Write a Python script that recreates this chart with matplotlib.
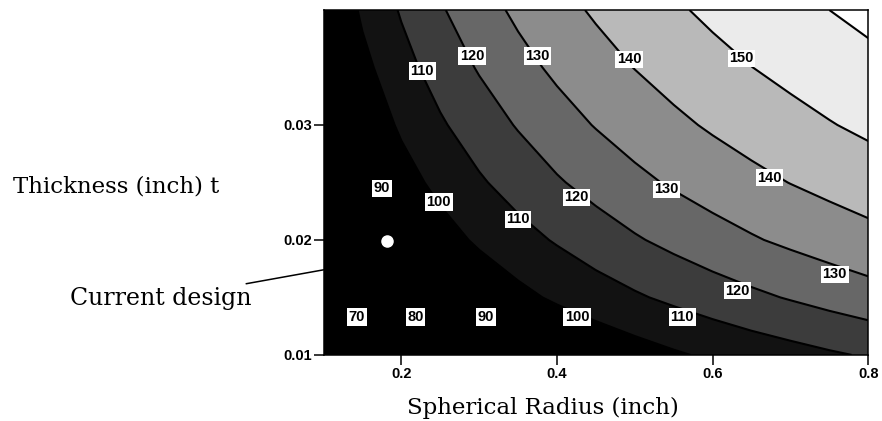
import numpy as np
import matplotlib
matplotlib.use('Agg')
import matplotlib.pyplot as plt

# grid: radius (inch) x thickness (inch)
radius = [0.10, 0.15, 0.20, 0.25, 0.30, 0.35, 0.40, 0.45,
          0.50, 0.55, 0.60, 0.65, 0.70, 0.75, 0.80]
thickness = [0.010, 0.015, 0.020, 0.025, 0.030, 0.035, 0.040]

# response value at each (thickness row, radius column)
response = [
    [54.8, 64.4, 71.2, 76.5, 80.9, 85.1, 88.7, 92.3, 95.7, 98.8, 101.6, 104.2, 106.5, 108.8, 110.9],
    [64.4, 74.0, 80.9, 86.9, 92.3, 97.3, 101.6, 105.4, 108.8, 112.0, 115.1, 118.0, 120.7, 123.4, 126.0],
    [71.2, 80.9, 88.7, 95.7, 101.6, 106.5, 110.9, 115.1, 119.0, 122.6, 126.0, 129.1, 131.9, 134.5, 136.9],
    [76.5, 86.9, 95.7, 102.9, 108.8, 114.1, 119.0, 123.4, 127.6, 131.2, 134.5, 137.4, 140.2, 142.7, 145.1],
    [80.9, 92.3, 101.6, 108.8, 115.1, 120.7, 126.0, 130.5, 134.5, 138.0, 141.2, 144.2, 146.9, 149.5, 151.9],
    [85.1, 97.3, 106.6, 114.2, 120.8, 126.8, 131.9, 136.3, 140.2, 143.7, 147.0, 149.9, 152.6, 155.1, 157.5],
    [88.7, 101.6, 110.9, 119.0, 126.0, 131.9, 136.9, 141.2, 145.1, 148.7, 151.9, 154.8, 157.5, 160.0, 162.4],
]

levels = [70, 80, 90, 100, 110, 120, 130, 140, 150, 160]
fill_levels = [40, 70, 80, 90, 100, 110, 120, 130, 140, 150, 160, 180]
fill_colors = ['#000000', '#000000', '#000000', '#000000', '#121212', '#3c3c3c',
               '#676767', '#8c8c8c', '#b9b9b9', '#ebebeb', '#ffffff']

# inline labels as they sit in the picture
label_r = [0.227, 0.291, 0.375, 0.493, 0.637, 0.175, 0.248, 0.350, 0.425,
           0.541, 0.673, 0.757, 0.632, 0.143, 0.218, 0.309, 0.426, 0.561]
label_t = [0.0347, 0.0360, 0.0360, 0.0357, 0.0358, 0.0245, 0.0233, 0.0218, 0.0237,
           0.0244, 0.0254, 0.0170, 0.0156, 0.0133, 0.0133, 0.0133, 0.0133, 0.0133]
label_val = [110, 120, 130, 140, 150, 90, 100, 110, 120,
             130, 140, 130, 120, 70, 80, 90, 100, 110]

design_r = [0.182]
design_t = [0.0199]

narrow = ['Liberation Sans Narrow', 'Liberation Sans', 'DejaVu Sans']
serif = ['DejaVu Serif']

fig = plt.figure(figsize=(8.82, 4.21), dpi=100)
ax = fig.add_axes([0.3668, 0.157, 0.6176, 0.8192])

R, T = np.meshgrid(radius, thickness)
Z = np.array(response)
ax.contourf(R, T, Z, levels=fill_levels, colors=fill_colors)
ax.contour(R, T, Z, levels=levels, colors='black', linewidths=1.5)

for r, t, v in zip(label_r, label_t, label_val):
    ax.text(r, t, str(v), ha='center', va='center', fontsize=10.5,
            family=narrow, fontweight='bold', color='black', zorder=5,
            bbox=dict(facecolor='white', edgecolor='none', pad=1.2))

# current design point
ax.plot(design_r, design_t, 'o', color='white', markersize=8, zorder=6)

ax.set_xlim(0.1, 0.8)
ax.set_ylim(0.01, 0.04)
ax.set_xticks([0.2, 0.4, 0.6, 0.8])
ax.set_yticks([0.01, 0.02, 0.03])
ax.set_xticklabels(['0.2', '0.4', '0.6', '0.8'])
ax.set_yticklabels(['0.01', '0.02', '0.03'])
ax.tick_params(direction='out', length=7, width=1.1, pad=1.5, labelsize=10.5)
for lbl in ax.get_xticklabels() + ax.get_yticklabels():
    lbl.set_family(narrow)
    lbl.set_fontweight('bold')
for sp in ax.spines.values():
    sp.set_linewidth(1.1)

fig.text(13 / 882, 1 - 187 / 421, 'Thickness (inch) t', ha='left', va='center',
         fontsize=16.5, family=serif)
fig.text(543 / 882, 1 - 408 / 421, 'Spherical Radius (inch)', ha='center', va='center',
         fontsize=16.5, family=serif)

ax.annotate('Current design', xy=(0.1, 0.0174), xycoords='data',
            xytext=(252 / 882, 1 - 299 / 421), textcoords='figure fraction',
            ha='right', va='center', fontsize=17, family=serif,
            arrowprops=dict(arrowstyle='-', color='black', lw=1.1, shrinkA=4, shrinkB=0),
            annotation_clip=False)

fig.savefig('out.png', dpi=100)
